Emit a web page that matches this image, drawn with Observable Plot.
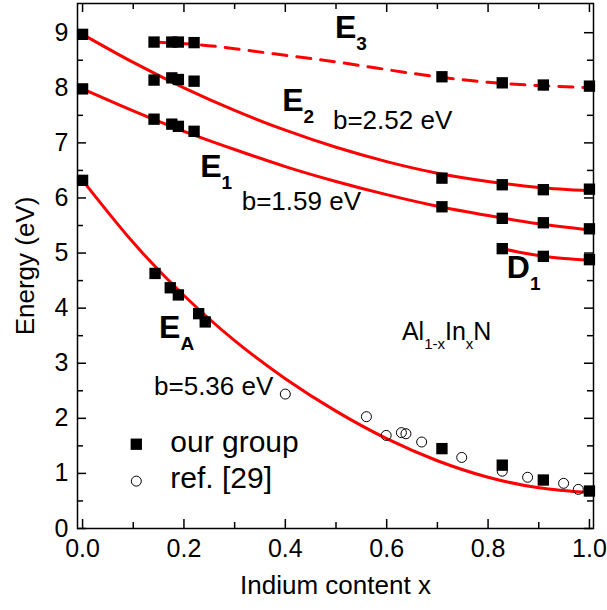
<!DOCTYPE html>
<html>
<head>
<meta charset="utf-8">
<script src="https://cdn.jsdelivr.net/npm/d3@7"></script>
<script src="https://cdn.jsdelivr.net/npm/@observablehq/plot@0.6"></script>
<style>
  html, body { margin: 0; padding: 0; background: #fff; }
  #chart svg { display: block; }
</style>
</head>
<body>
<div id="chart"></div>
<script>
// ---------------- data ----------------
// "our group" measurements
const ourX_EA = [0, 0.143, 0.173, 0.189, 0.229, 0.242, 0.709, 0.828, 0.909, 1.0];
const ourY_EA = [6.32, 4.63, 4.37, 4.24, 3.90, 3.75, 1.45, 1.15, 0.88, 0.68];
const ourX_E1 = [0, 0.141, 0.176, 0.189, 0.220, 0.709, 0.828, 0.909, 1.0];
const ourY_E1 = [7.98, 7.43, 7.34, 7.30, 7.21, 5.84, 5.63, 5.55, 5.44];
const ourX_E2 = [0, 0.141, 0.176, 0.189, 0.220, 0.709, 0.828, 0.909, 1.0];
const ourY_E2 = [8.97, 8.14, 8.18, 8.15, 8.12, 6.36, 6.24, 6.15, 6.16];
const ourX_E3 = [0.141, 0.176, 0.189, 0.220, 0.709, 0.828, 0.909, 1.0];
const ourY_E3 = [8.83, 8.83, 8.83, 8.82, 8.20, 8.09, 8.05, 8.03];
const ourX_D1 = [0.828, 0.909, 1.0];
const ourY_D1 = [5.08, 4.94, 4.88];
// ref. [29] measurements
const refX = [0.40, 0.56, 0.599, 0.629, 0.638, 0.669, 0.748, 0.828, 0.878, 0.949, 0.978];
const refY = [2.44, 2.03, 1.69, 1.74, 1.72, 1.57, 1.29, 1.04, 0.93, 0.82, 0.71];
// bowing fit curves
const fitX    = [0, 0.1, 0.2, 0.3, 0.4, 0.5, 0.6, 0.7, 0.8, 0.9, 1.0];
const fitY_EA = [6.32, 5.19, 4.23, 3.41, 2.72, 2.13, 1.63, 1.23, 0.93, 0.74, 0.65];
const fitY_E1 = [7.98, 7.58, 7.21, 6.88, 6.57, 6.30, 6.06, 5.85, 5.68, 5.53, 5.42];
const fitY_E2 = [8.97, 8.46, 8.00, 7.59, 7.23, 6.92, 6.66, 6.45, 6.30, 6.19, 6.13];
const fitX_E3 = [0.14, 0.22, 0.3, 0.4, 0.5, 0.6, 0.7, 0.8, 0.9, 1.0];
const fitY_E3 = [8.83, 8.79, 8.71, 8.59, 8.47, 8.33, 8.20, 8.10, 8.04, 8.00];
const fitX_D1 = [0.828, 0.87, 0.909, 0.95, 1.0];
const fitY_D1 = [5.08, 5.00, 4.94, 4.90, 4.87];
// ticks
const xMajor = [0, 0.2, 0.4, 0.6, 0.8, 1.0];
const xMinor = [0.1, 0.3, 0.5, 0.7, 0.9];
const yMajor = [0, 1, 2, 3, 4, 5, 6, 7, 8, 9];
const yMinor = [0.5, 1.5, 2.5, 3.5, 4.5, 5.5, 6.5, 7.5, 8.5];
// texts
const xTitle = "Indium content x";
const yTitle = "Energy (eV)";
const bigLabels = ["E_3", "E_2", "E_1", "D_1", "E_A"];
const bowLabels = ["b=2.52 eV", "b=1.59 eV", "b=5.36 eV"];
const alloyLabel = "Al_{1-x}In_{x}N";
const legendLabels = ["our group", "ref. [29]"];

// ---------------- layout ----------------
const W = 607, H = 610;
const mL = 77, mR = 14, mT = 3, mB = 82;
const fw = W - mL - mR, fh = H - mT - mB;
const FONT = "'Liberation Sans', Arial, Helvetica, sans-serif";
const RED = "#ff0000";

const zip = (xs, ys) => xs.map((x, i) => ({x, y: ys[i]}));
const ours = [
  ...zip(ourX_EA, ourY_EA), ...zip(ourX_E1, ourY_E1), ...zip(ourX_E2, ourY_E2),
  ...zip(ourX_E3, ourY_E3), ...zip(ourX_D1, ourY_D1)
];
const refs = zip(refX, refY);

// annotation anchor points (data units), baseline-left
const bigPos = [[0.498, 8.90], [0.394, 7.57], [0.232, 6.38], [0.837, 4.54], [0.151, 3.45]];
const bowPos = [[0.494, 7.25], [0.314, 5.79], [0.141, 2.42]];
const alloyPos = [0.630, 3.42];
const legendMarkPos = [[0.106, 1.53], [0.106, 0.86]];
const legendTextPos = [[0.173, 1.39], [0.173, 0.73]];

const bigData = bigLabels.map((t, i) => ({t, x: bigPos[i][0], y: bigPos[i][1]}));
const bowData = bowLabels.map((t, i) => ({t, x: bowPos[i][0], y: bowPos[i][1]}));
const legData = legendLabels.map((t, i) => ({t, mx: legendMarkPos[i][0], my: legendMarkPos[i][1], tx: legendTextPos[i][0], ty: legendTextPos[i][1]}));

const chart = Plot.plot({
  width: W, height: H,
  marginLeft: mL, marginRight: mR, marginTop: mT, marginBottom: mB,
  style: {fontFamily: FONT, background: "#fff", color: "#000"},
  x: {domain: [-0.01, 1.008]},
  y: {domain: [0, 9.53]},
  marks: [
    // fit curves
    Plot.line(zip(fitX, fitY_EA), {x: "x", y: "y", stroke: RED, strokeWidth: 3, curve: "natural"}),
    Plot.line(zip(fitX, fitY_E1), {x: "x", y: "y", stroke: RED, strokeWidth: 3, curve: "natural"}),
    Plot.line(zip(fitX, fitY_E2), {x: "x", y: "y", stroke: RED, strokeWidth: 3, curve: "natural"}),
    Plot.line(zip(fitX_E3, fitY_E3), {x: "x", y: "y", stroke: RED, strokeWidth: 3, curve: "natural", strokeDasharray: "14,10"}),
    Plot.line(zip(fitX_D1, fitY_D1), {x: "x", y: "y", stroke: RED, strokeWidth: 3, curve: "natural"}),
    // data points
    Plot.dot(refs, {x: "x", y: "y", r: 5, stroke: "#000", strokeWidth: 1, fill: "none"}),
    Plot.dot(ours, {x: "x", y: "y", r: 6.4, symbol: "square", fill: "#000", stroke: "none"}),
    // ticks (inward)
    Plot.tickX(xMajor, {x: d => d, insetTop: fh - 9, stroke: "#000", strokeWidth: 1.5}),
    Plot.tickX(xMajor, {x: d => d, insetBottom: fh - 9, stroke: "#000", strokeWidth: 1.5}),
    Plot.tickX(xMinor, {x: d => d, insetTop: fh - 6, stroke: "#000", strokeWidth: 1.5}),
    Plot.tickX(xMinor, {x: d => d, insetBottom: fh - 6, stroke: "#000", strokeWidth: 1.5}),
    Plot.tickY(yMajor, {y: d => d, insetRight: fw - 9, stroke: "#000", strokeWidth: 1.5}),
    Plot.tickY(yMajor, {y: d => d, insetLeft: fw - 9, stroke: "#000", strokeWidth: 1.5}),
    Plot.tickY(yMinor, {y: d => d, insetRight: fw - 6, stroke: "#000", strokeWidth: 1.5}),
    Plot.tickY(yMinor, {y: d => d, insetLeft: fw - 6, stroke: "#000", strokeWidth: 1.5}),
    Plot.frame({stroke: "#000", strokeWidth: 1.5}),
    // axes (labels only)
    Plot.axisX({ticks: xMajor, tickFormat: d3.format(".1f"), tickSize: 0, tickPadding: 11, fontSize: 25, label: null}),
    Plot.axisY({ticks: yMajor, tickFormat: d3.format("d"), tickSize: 0, tickPadding: 9, fontSize: 25, label: null}),
    Plot.text([xTitle], {text: d => d, frameAnchor: "bottom", dy: 65, lineAnchor: "bottom", fontSize: 26}),
    Plot.text([yTitle], {text: d => d, frameAnchor: "left", dx: -44, rotate: -90, textAnchor: "middle", lineAnchor: "bottom", fontSize: 26}),
    // annotations
    Plot.text(bigData, {x: "x", y: "y", text: "t", textAnchor: "start", lineAnchor: "bottom", fontSize: 32, fontWeight: "bold"}),
    Plot.text(bowData, {x: "x", y: "y", text: "t", textAnchor: "start", lineAnchor: "bottom", fontSize: 26}),
    Plot.text([alloyLabel], {x: alloyPos[0], y: alloyPos[1], text: d => d, textAnchor: "start", lineAnchor: "bottom", fontSize: 25}),
    // legend
    Plot.dot(legData.slice(0, 1), {x: "mx", y: "my", r: 6.4, symbol: "square", fill: "#000"}),
    Plot.dot(legData.slice(1), {x: "mx", y: "my", r: 5, stroke: "#000", strokeWidth: 1, fill: "none"}),
    Plot.text(legData, {x: "tx", y: "ty", text: "t", textAnchor: "start", lineAnchor: "bottom", fontSize: 30})
  ]
});

// subscripts: "X_{sub}" or "X_s"
d3.select(chart).selectAll("text").each(function() {
  const el = this;
  const s = el.textContent;
  if (!s || s.indexOf("_") < 0) return;
  const fsAttr = el.closest("[font-size]");
  const base = fsAttr ? parseFloat(fsAttr.getAttribute("font-size")) : 16;
  const subSize = Math.round(base * 0.6);
  const shift = Math.round(base * 0.36);
  const parts = [];
  const re = /_\{([^}]*)\}|_(.)/g;
  let last = 0, m;
  while ((m = re.exec(s))) {
    if (m.index > last) parts.push({t: s.slice(last, m.index), sub: false});
    parts.push({t: m[1] !== undefined ? m[1] : m[2], sub: true});
    last = re.lastIndex;
  }
  if (last < s.length) parts.push({t: s.slice(last), sub: false});
  el.textContent = "";
  let down = false;
  for (const p of parts) {
    const ts = document.createElementNS("http://www.w3.org/2000/svg", "tspan");
    ts.textContent = p.t;
    if (p.sub) {
      ts.setAttribute("font-size", subSize);
      if (!down) { ts.setAttribute("dy", shift); down = true; }
    } else if (down) {
      ts.setAttribute("dy", -shift); down = false;
    }
    el.appendChild(ts);
  }
});

document.getElementById("chart").appendChild(chart);
</script>
</body>
</html>
